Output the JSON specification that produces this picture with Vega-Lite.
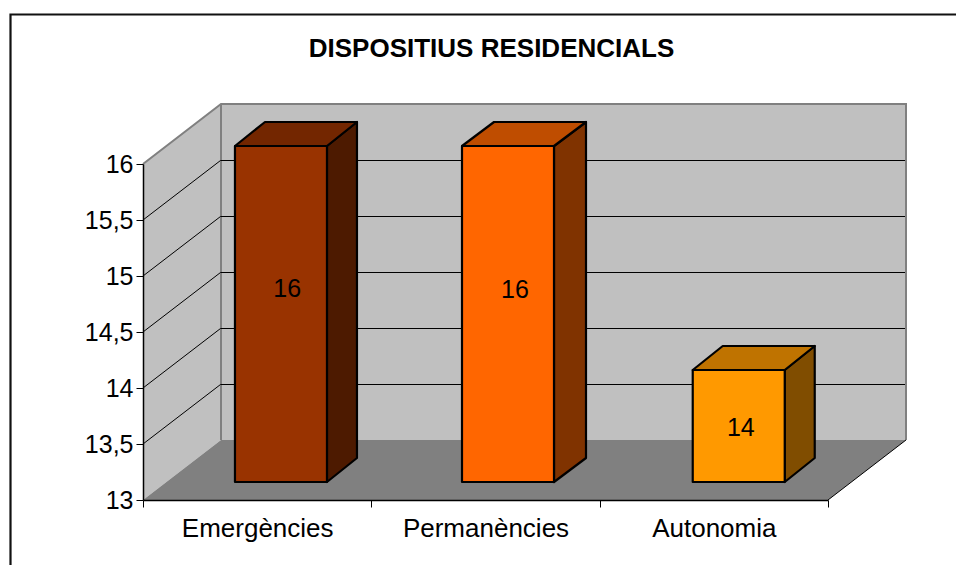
{
"$schema":"https://vega.github.io/schema/vega-lite/v6.json",
"width":685,"height":336,
"autosize":{"type":"none"},
"padding":{"left":143,"top":164,"right":128,"bottom":65},
"background":"#ffffff",
"config":{"view":{"stroke":null},"font":"Liberation Sans"},
"title":{"text":"DISPOSITIUS RESIDENCIALS","anchor":"middle","frame":"group","dx":6,"offset":-52,"font":"Liberation Sans","fontSize":26,"fontWeight":"bold","color":"#000000"},
"datasets":{
"bars":[{"category":"Emergències","value":16},{"category":"Permanències","value":16},{"category":"Autonomia","value":14}],
"origin":[{"level":13}],
"ticks":[{"level":13.5},{"level":14},{"level":14.5},{"level":15},{"level":15.5}]
},
"resolve":{"scale":{"fill":"independent","shape":"independent"}},
"layer":[
{"data":{"name":"origin"},
 "mark":{"type":"point","shape":"M78,-60 L78,-396 L763,-396 L763,-60 Z","size":4,"filled":true,"fill":"#c0c0c0","stroke":null,"opacity":1},
 "encoding":{
  "x":{"datum":"Emergències","type":"nominal","bandPosition":0,"title":null,
   "scale":{"type":"band","domain":["Emergències","Permanències","Autonomia"],"paddingInner":0,"paddingOuter":0},
   "axis":{"title":null,"zindex":1,"tickBand":"extent","labelAngle":0,"domainColor":"#000000","domainWidth":1.5,"tickColor":"#000000","tickSize":7,"labelFontSize":26,"labelColor":"#000000","labelPadding":8,"labelFont":"Liberation Sans","grid":false}},
  "y":{"field":"level","type":"quantitative","title":null,
   "scale":{"domain":[13,16],"zero":false,"nice":false},
   "axis":{"title":null,"zindex":1,"values":[13,13.5,14,14.5,15,15.5,16],"labelExpr":"replace(format(datum.value,'~g'),'.',',')","domainColor":"#000000","domainWidth":1.5,"tickColor":"#000000","tickSize":7,"labelFontSize":25,"labelColor":"#000000","labelPadding":3,"labelFont":"Liberation Sans","grid":false}}
 }},
{"data":{"name":"origin"},
 "mark":{"type":"point","shape":"M0,0 L78,-60 L78,-396 L0,-336 Z","size":4,"filled":true,"fill":"#c0c0c0","stroke":null,"opacity":1},
 "encoding":{"x":{"datum":"Emergències","type":"nominal","bandPosition":0,"title":null},"y":{"field":"level","type":"quantitative","title":null}}},
{"data":{"name":"origin"},
 "mark":{"type":"point","shape":"M0,0 L78,-60 L763,-60 L685,0 Z","size":4,"filled":true,"fill":"#808080","stroke":null,"opacity":1},
 "encoding":{"x":{"datum":"Emergències","type":"nominal","bandPosition":0,"title":null},"y":{"field":"level","type":"quantitative","title":null}}},
{"data":{"name":"origin"},
 "mark":{"type":"point","shape":"M0,-336 L78,-396 L763,-396 L763,-60 M78,-396 L78,-60","size":4,"filled":false,"fill":null,"stroke":"#808080","strokeWidth":2,"opacity":1},
 "encoding":{"x":{"datum":"Emergències","type":"nominal","bandPosition":0,"title":null},"y":{"field":"level","type":"quantitative","title":null}}},
{"data":{"name":"origin"},
 "mark":{"type":"point","shape":"M685,0 L763,-60","size":4,"filled":false,"fill":null,"stroke":"#000000","strokeWidth":1,"opacity":1},
 "encoding":{"x":{"datum":"Emergències","type":"nominal","bandPosition":0,"title":null},"y":{"field":"level","type":"quantitative","title":null}}},
{"data":{"name":"ticks"},
 "mark":{"type":"point","shape":"M0,0 L77.5,-59.5 L762,-59.5","size":4,"filled":false,"fill":null,"stroke":"#000000","strokeWidth":1,"opacity":1},
 "encoding":{"x":{"datum":"Emergències","type":"nominal","bandPosition":0,"title":null},"y":{"field":"level","type":"quantitative","title":null}}},
{"data":{"name":"origin"},
 "mark":{"type":"point","shape":"M1000,-485.5 L-132.5,-485.5 L-132.5,70","size":4,"filled":false,"fill":null,"stroke":"#111111","strokeWidth":2.2,"opacity":1},
 "encoding":{"x":{"datum":"Emergències","type":"nominal","bandPosition":0,"title":null},"y":{"field":"level","type":"quantitative","title":null}}},
{"data":{"name":"bars"},
 "mark":{"type":"point","size":4,"filled":true,"stroke":"#000000","strokeWidth":2.2,"strokeJoin":"round","opacity":1},
 "encoding":{
  "x":{"field":"category","type":"nominal","title":null},
  "y":{"field":"value","type":"quantitative","title":null},
  "shape":{"field":"category","type":"nominal","legend":null,"scale":{"domain":["Emergències","Permanències","Autonomia"],"range":["M69.8,-18 L99.8,-42 L99.8,294 L69.8,318 Z","M68.5,-18 L100.5,-42 L100.5,294 L68.5,318 Z","M70.9,-18 L100.9,-42 L100.9,70 L70.9,94 Z"]}},
  "fill":{"field":"category","type":"nominal","legend":null,"scale":{"domain":["Emergències","Permanències","Autonomia"],"range":["#4d1a00","#803300","#804d00"]}}
 }},
{"data":{"name":"bars"},
 "mark":{"type":"point","size":4,"filled":true,"stroke":"#000000","strokeWidth":2.2,"strokeJoin":"round","opacity":1},
 "encoding":{
  "x":{"field":"category","type":"nominal","title":null},
  "y":{"field":"value","type":"quantitative","title":null},
  "shape":{"field":"category","type":"nominal","legend":null,"scale":{"domain":["Emergències","Permanències","Autonomia"],"range":["M-22.2,-18 L7.8,-42 L99.8,-42 L69.8,-18 Z","M-23.5,-18 L8.5,-42 L100.5,-42 L68.5,-18 Z","M-21.1,-18 L8.9,-42 L100.9,-42 L70.9,-18 Z"]}},
  "fill":{"field":"category","type":"nominal","legend":null,"scale":{"domain":["Emergències","Permanències","Autonomia"],"range":["#732600","#bf4d00","#bf7300"]}}
 }},
{"data":{"name":"bars"},
 "mark":{"type":"point","size":4,"filled":true,"stroke":"#000000","strokeWidth":2.2,"strokeJoin":"round","opacity":1},
 "encoding":{
  "x":{"field":"category","type":"nominal","title":null},
  "y":{"field":"value","type":"quantitative","title":null},
  "shape":{"field":"category","type":"nominal","legend":null,"scale":{"domain":["Emergències","Permanències","Autonomia"],"range":["M-22.2,-18 L69.8,-18 L69.8,318 L-22.2,318 Z","M-23.5,-18 L68.5,-18 L68.5,318 L-23.5,318 Z","M-21.1,-18 L70.9,-18 L70.9,94 L-21.1,94 Z"]}},
  "fill":{"field":"category","type":"nominal","legend":null,"scale":{"domain":["Emergències","Permanències","Autonomia"],"range":["#993300","#ff6600","#ff9900"]}}
 }},
{"data":{"name":"bars"},"transform":[{"filter":"datum.category==='Emergències'"}],
 "mark":{"type":"text","fontSize":25,"color":"#000000","font":"Liberation Sans","xOffset":30,"yOffset":125},
 "encoding":{"x":{"field":"category","type":"nominal","title":null},"y":{"field":"value","type":"quantitative","title":null},"text":{"field":"value","type":"quantitative"}}},
{"data":{"name":"bars"},"transform":[{"filter":"datum.category==='Permanències'"}],
 "mark":{"type":"text","fontSize":25,"color":"#000000","font":"Liberation Sans","xOffset":29.5,"yOffset":126},
 "encoding":{"x":{"field":"category","type":"nominal","title":null},"y":{"field":"value","type":"quantitative","title":null},"text":{"field":"value","type":"quantitative"}}},
{"data":{"name":"bars"},"transform":[{"filter":"datum.category==='Autonomia'"}],
 "mark":{"type":"text","fontSize":25,"color":"#000000","font":"Liberation Sans","xOffset":27,"yOffset":40},
 "encoding":{"x":{"field":"category","type":"nominal","title":null},"y":{"field":"value","type":"quantitative","title":null},"text":{"field":"value","type":"quantitative"}}}
]
}
